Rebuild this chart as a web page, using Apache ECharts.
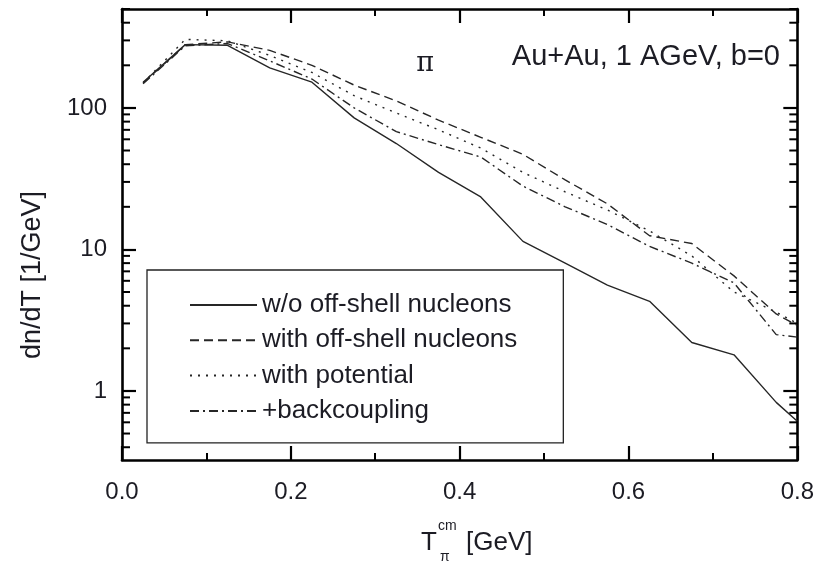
<!DOCTYPE html>
<html>
<head>
<meta charset="utf-8">
<script src="https://cdn.jsdelivr.net/npm/echarts@6/dist/echarts.min.js"></script>
<style>
html,body{margin:0;padding:0;background:#fff;}
#chart{width:817px;height:567px;}
</style>
</head>
<body>
<div id="chart"></div>
<script>
// ---- data ----
const T = [0.025, 0.075, 0.125, 0.175, 0.225, 0.275, 0.325, 0.375, 0.425, 0.475, 0.525, 0.575, 0.625, 0.675, 0.725, 0.775, 0.8];
const woOffShell   = [152, 280, 277, 192, 152, 85, 56, 35, 23.5, 11.4, 8.0, 5.6, 4.3, 2.2, 1.8, 0.83, 0.61];
const withOffShell = [150, 280, 293, 255, 200, 145, 112, 82, 62, 47, 31, 21, 12.5, 11, 6.5, 3.5, 2.9];
const withPotential= [150, 305, 298, 235, 178, 122, 92, 70, 52, 35, 25.5, 19, 13.5, 9, 5.0, 3.6, 3.0];
const backcoupling = [148, 275, 285, 215, 160, 100, 68, 55, 45, 28, 20, 15, 10.5, 8, 5.8, 2.5, 2.4];
const seriesNames = ['w/o off-shell nucleons', 'with off-shell nucleons', 'with potential', '+backcoupling'];
const yMajorTicks = [1, 10, 100];
const yMinorTicks = [0.4, 0.5, 0.6, 0.7, 0.8, 0.9, 2, 3, 4, 5, 6, 7, 8, 9, 20, 30, 40, 50, 60, 70, 80, 90, 200, 300, 400, 500];
const xTickLabels = ['0.0', '0.2', '0.4', '0.6', '0.8'];
const X_MIN = 0, X_MAX = 0.8;

const toPairs = ys => T.map((x, i) => [x, ys[i]]);
const FONT = 'Liberation Sans, Arial, sans-serif';
const INK = '#1c1c24';
const LINE = '#262626';

const chart = echarts.init(document.getElementById('chart'), null, {renderer: 'canvas'});

const baseX = {
  type: 'value', min: X_MIN, max: X_MAX, interval: 0.2,
  axisLine: {show: true, onZero: false, lineStyle: {color: '#000', width: 2.6}},
  axisTick: {show: true, inside: true, length: 14, lineStyle: {color: '#000', width: 2.2}},
  minorTick: {show: true, splitNumber: 2, length: 7, lineStyle: {color: '#000', width: 2}},
  splitLine: {show: false}, minorSplitLine: {show: false}
};
const baseY = {
  type: 'log', logBase: 10, min: 0.325, max: 500,
  axisLine: {show: true, onZero: false, lineStyle: {color: '#000', width: 2.6}},
  axisTick: {show: true, inside: true, length: 14, customValues: yMajorTicks, lineStyle: {color: '#000', width: 2.2}},
  splitLine: {show: false}
};

// minor log ticks on both frame sides, placed through the axes' own coordinate mapping
function minorTickRender(params, api) {
  const v = api.value(0);
  const pl = api.coord([X_MIN, v]);
  const pr = api.coord([X_MAX, v]);
  const st = {stroke: '#000', lineWidth: 2};
  return {
    type: 'group',
    children: [
      {type: 'line', shape: {x1: pl[0], y1: pl[1], x2: pl[0] + 8, y2: pl[1]}, style: st},
      {type: 'line', shape: {x1: pr[0], y1: pr[1], x2: pr[0] - 8, y2: pr[1]}, style: st}
    ]
  };
}

const option = {
  animation: false,
  backgroundColor: '#fff',
  grid: {left: 122, right: 17, top: 9, bottom: 107, containLabel: false},
  xAxis: [
    Object.assign({}, baseX, {
      position: 'bottom',
      axisLabel: {show: true, fontSize: 24, fontFamily: FONT, color: INK, margin: 20,
        formatter: v => xTickLabels[Math.round(v / 0.2)] }
    }),
    Object.assign({}, baseX, {position: 'top', axisLabel: {show: false}})
  ],
  yAxis: [
    Object.assign({}, baseY, {
      position: 'left',
      axisLabel: {show: true, fontSize: 24, fontFamily: FONT, color: INK, margin: 15, customValues: yMajorTicks,
        formatter: v => String(Math.round(v))}
    }),
    Object.assign({}, baseY, {
      position: 'right',
      axisLabel: {show: false}
    })
  ],
  legend: {
    show: true, orient: 'vertical', left: 147, top: 270,
    padding: [22, 46, 19, 42],
    borderColor: '#222', borderWidth: 1.3, backgroundColor: '#fff',
    itemWidth: 67, itemHeight: 14, itemGap: 9.3,
    itemStyle: {opacity: 0},
    textStyle: {fontSize: 26, lineHeight: 25, fontFamily: FONT, color: INK},
    data: seriesNames,
    selectedMode: false
  },
  series: [
    {name: seriesNames[0], type: 'line', data: toPairs(woOffShell), symbol: 'none', showSymbol: false,
     lineStyle: {color: LINE, width: 1.4, type: 'solid'}, itemStyle: {color: LINE}},
    {name: seriesNames[1], type: 'line', data: toPairs(withOffShell), symbol: 'none', showSymbol: false,
     lineStyle: {color: LINE, width: 1.4, type: [9, 5]}, itemStyle: {color: LINE}},
    {name: seriesNames[2], type: 'line', data: toPairs(withPotential), symbol: 'none', showSymbol: false,
     lineStyle: {color: LINE, width: 1.4, type: [2, 6]}, itemStyle: {color: LINE}},
    {name: seriesNames[3], type: 'line', data: toPairs(backcoupling), symbol: 'none', showSymbol: false,
     lineStyle: {color: LINE, width: 1.4, type: [9, 4, 2, 4]}, itemStyle: {color: LINE}},
    {name: 'minorTicks', type: 'custom', data: yMinorTicks.map(v => [v]),
     encode: {y: 0}, renderItem: minorTickRender, clip: false, silent: true, z: 5,
     dimensions: ['v']}
  ],
  graphic: [
    {type: 'text', x: 780, y: 57, style: {text: 'Au+Au, 1 AGeV, b=0', font: '29px ' + FONT, fill: INK, align: 'right', verticalAlign: 'middle'}},
    {type: 'text', x: 425, y: 64, style: {text: 'π', font: '27px DejaVu Serif, Liberation Serif, serif', fill: INK, align: 'center', verticalAlign: 'middle'}},
    {type: 'text', x: 33, y: 275, rotation: Math.PI / 2, style: {text: 'dn/dT [1/GeV]', font: '27px ' + FONT, fill: INK, align: 'center', verticalAlign: 'middle'}},
    {type: 'text', x: 421, y: 543, style: {text: 'T', font: '26px ' + FONT, fill: INK, align: 'left', verticalAlign: 'middle'}},
    {type: 'text', x: 438, y: 526, style: {text: 'cm', font: '14px ' + FONT, fill: INK, align: 'left', verticalAlign: 'middle'}},
    {type: 'text', x: 440, y: 557, style: {text: 'π', font: '14px ' + FONT, fill: INK, align: 'left', verticalAlign: 'middle'}},
    {type: 'text', x: 466, y: 543, style: {text: '[GeV]', font: '26px ' + FONT, fill: INK, align: 'left', verticalAlign: 'middle'}}
  ]
};
chart.setOption(option);
</script>
</body>
</html>
